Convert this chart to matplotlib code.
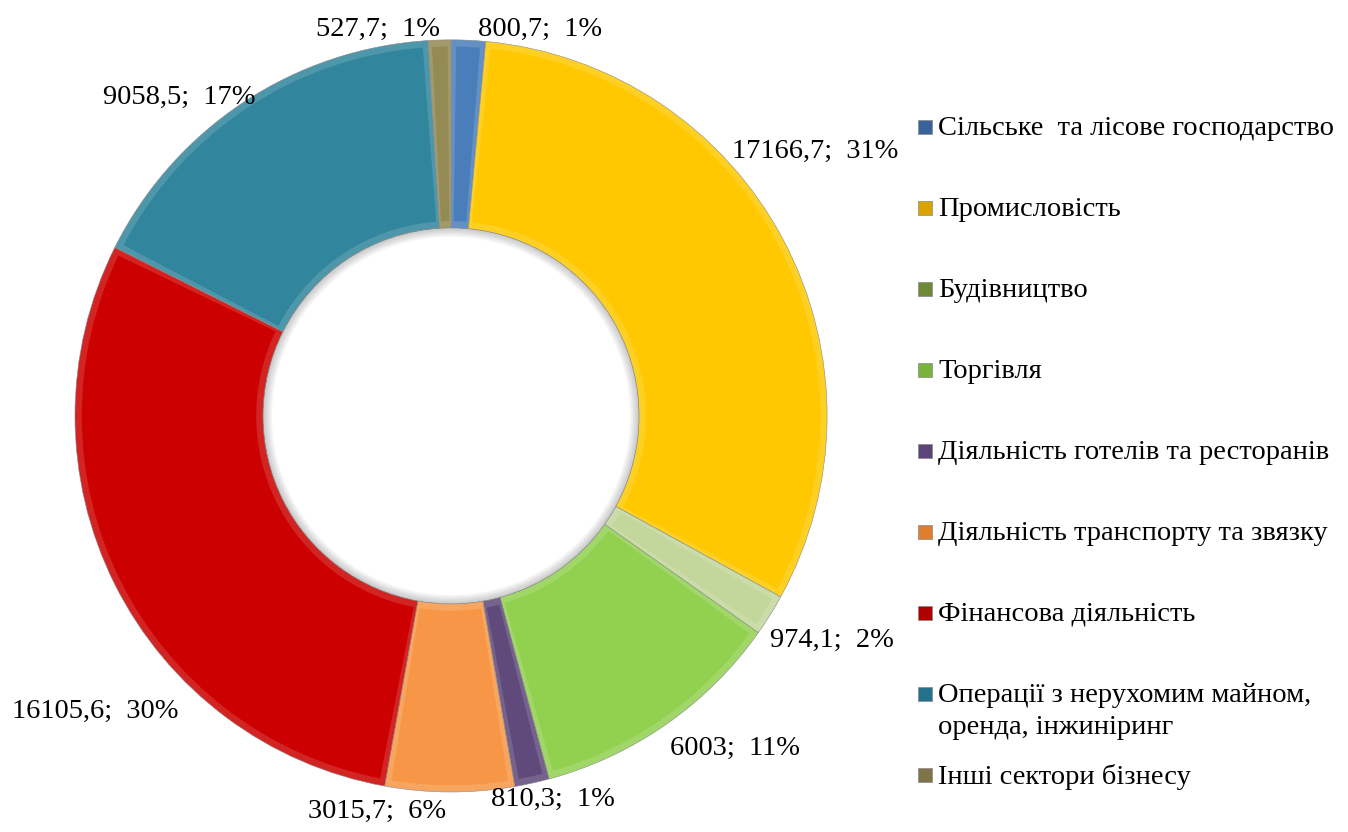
import numpy as np
import matplotlib.pyplot as plt
from matplotlib.patches import Wedge, Rectangle
from matplotlib.colors import to_rgb

plt.rcParams['font.family'] = ['Liberation Serif', 'DejaVu Serif']

# Дані
categories = ['Сільське  та лісове господарство', 'Промисловість', 'Будівництво',
              'Торгівля', 'Діяльність готелів та ресторанів',
              'Діяльність транспорту та звязку', 'Фінансова діяльність',
              'Операції з нерухомим майном,\nоренда, інжиніринг', 'Інші сектори бізнесу']
values = [800.7, 17166.7, 974.1, 6003, 810.3, 3015.7, 16105.6, 9058.5, 527.7]
value_labels = ['800,7', '17166,7', '974,1', '6003', '810,3', '3015,7', '16105,6', '9058,5', '527,7']
percent_labels = ['1%', '31%', '2%', '11%', '1%', '6%', '30%', '17%', '1%']

colors = ['#4A7EBB', '#FFC800', '#C3D69B', '#92D050', '#604A7B',
          '#F79646', '#CC0000', '#31859C', '#948A54']
legend_colors = ['#3A6298', '#D9A400', '#6E8A38', '#78B43C', '#5A4478',
                 '#E07E30', '#B00000', '#23718A', '#7E7448']

# положення підписів: (відстань від центру, зсув кута)
label_pos = [(1.054, -10.4), (1.196, 8.0), (1.175, 1.5), (1.162, 5.6), (1.056, 2.5),
             (1.071, -10.4), (1.231, 13.1), (1.113, 7.0), (1.045, 9.0)]

fig = plt.figure(figsize=(13.48, 8.32), dpi=100)
ax = fig.add_axes([0.0556, 0.0481, 0.558, 0.904])

start = 90
wedges, _ = ax.pie(values, startangle=start, counterclock=False, colors=colors,
                   radius=1.0, wedgeprops=dict(width=0.5, edgecolor='#8a8a8a', linewidth=0.4))
ax.set_xlim(-1, 1)
ax.set_ylim(-1, 1)
ax.axis('off')

# "об'ємний" ефект: трохи світліший край і основний колір всередині
for w, c in zip(wedges, colors):
    rgb = np.array(to_rgb(c))
    light = rgb + (1 - rgb) * 0.14
    w.set_facecolor(light)
    pad = min(0.9, (w.theta2 - w.theta1) * 0.15)
    ax.add_patch(Wedge((0, 0), 0.982, w.theta1 + pad, w.theta2 - pad,
                       width=0.464, facecolor=c, edgecolor='none'))

# тінь по краю отвору
for k in range(6):
    ax.add_patch(Wedge((0, 0), 0.5, 0, 360, width=0.004 * (k + 1),
                       facecolor='black', alpha=0.035, edgecolor='none'))

# Підписи даних
total = sum(values)
ang = start
for i, v in enumerate(values):
    sweep = v / total * 360
    mid = ang - sweep / 2
    ang -= sweep
    r, dt = label_pos[i]
    t = np.deg2rad(mid + dt)
    ax.text(r * np.cos(t), r * np.sin(t), value_labels[i] + ';  ' + percent_labels[i],
            ha='center', va='center', fontsize=20.5, clip_on=False)

# Легенда
y0 = 127
step = 81
for i, cat in enumerate(categories):
    y = 1 - (y0 + step * i) / 832
    fig.patches.append(Rectangle((918 / 1348, y - 7 / 832), 14 / 1348, 14 / 832,
                                 transform=fig.transFigure, facecolor=legend_colors[i],
                                 edgecolor='#888888', linewidth=0.5))
    fig.text(938 / 1348, y + 11 / 832, cat, ha='left', va='top', fontsize=20.5,
             linespacing=1.35)

plt.savefig('out.png', dpi=100)
